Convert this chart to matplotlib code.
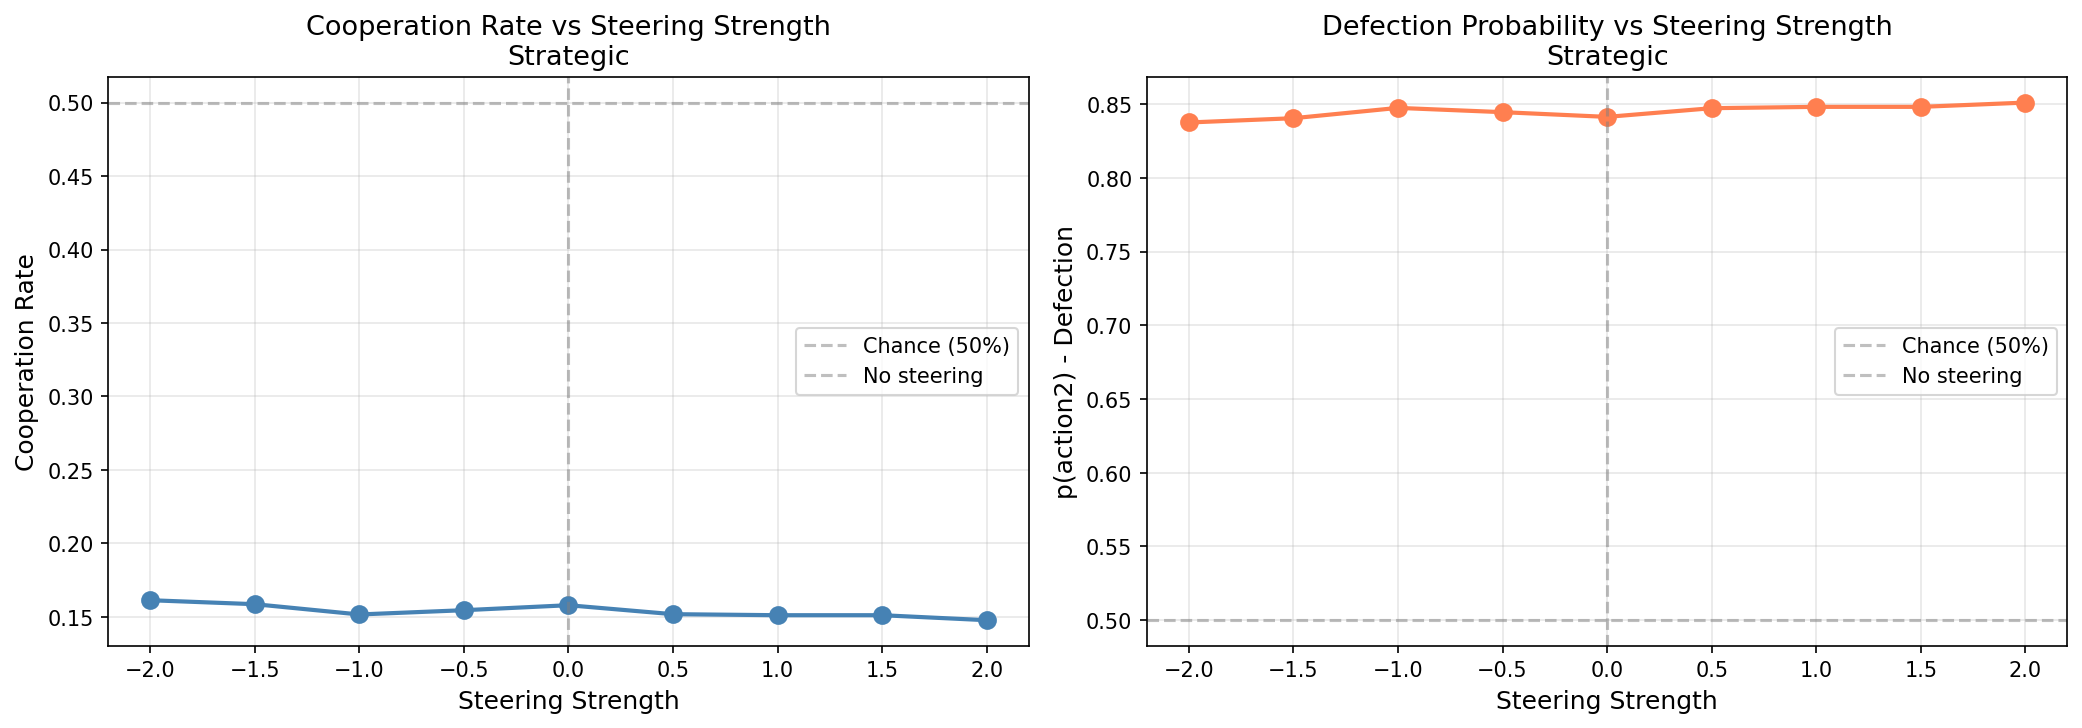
import matplotlib.pyplot as plt

strengths = [-2.0, -1.5, -1.0, -0.5, 0.0, 0.5, 1.0, 1.5, 2.0]
coop_rate = [0.1613, 0.1586, 0.1516, 0.1545, 0.1579, 0.1518, 0.1511, 0.1511, 0.1477]
p_defect = [0.8376, 0.8405, 0.8475, 0.8446, 0.8414, 0.8473, 0.8482, 0.8482, 0.8511]
xticks = [-2.0, -1.5, -1.0, -0.5, 0.0, 0.5, 1.0, 1.5, 2.0]

fig, axes = plt.subplots(1, 2, figsize=(14, 5))

# Left: cooperation rate
ax = axes[0]
ax.plot(strengths, coop_rate, 'o-', color='steelblue', linewidth=2, markersize=8)
ax.axhline(0.5, color='gray', linestyle='--', alpha=0.5, label='Chance (50%)')
ax.axvline(0.0, color='gray', linestyle='--', alpha=0.5, label='No steering')
ax.set_xlabel('Steering Strength', fontsize=12)
ax.set_ylabel('Cooperation Rate', fontsize=12)
ax.set_title('Cooperation Rate vs Steering Strength\nStrategic', fontsize=13)
ax.set_xticks(xticks)
ax.legend(loc='center right')
ax.grid(True, alpha=0.3)

# Right: defection probability
ax = axes[1]
ax.plot(strengths, p_defect, 'o-', color='coral', linewidth=2, markersize=8)
ax.axhline(0.5, color='gray', linestyle='--', alpha=0.5, label='Chance (50%)')
ax.axvline(0.0, color='gray', linestyle='--', alpha=0.5, label='No steering')
ax.set_xlabel('Steering Strength', fontsize=12)
ax.set_ylabel('p(action2) - Defection', fontsize=12)
ax.set_title('Defection Probability vs Steering Strength\nStrategic', fontsize=13)
ax.set_xticks(xticks)
ax.legend(loc='center right')
ax.grid(True, alpha=0.3)

plt.tight_layout()
plt.savefig('out.png', dpi=150, bbox_inches='tight')
